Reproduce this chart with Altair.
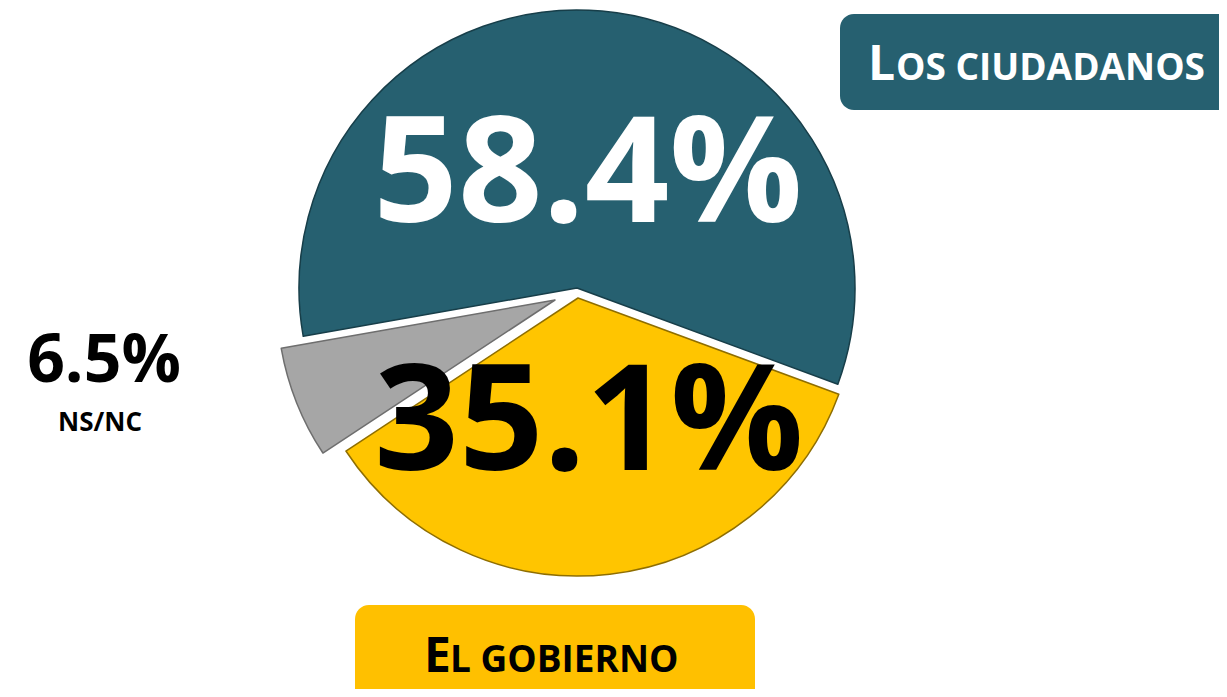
import math
import altair as alt
import pandas as pd

# ---- data ----
categories = ["Los ciudadanos", "El gobierno", "NS/NC"]
values = [58.4, 35.1, 6.5]
slice_order = [0, 1, 2]
colors = ["#266070", "#FFC500", "#A6A6A6"]
edge_colors = ["#173E49", "#8F6E00", "#6E6E6E"]
# small-caps style box labels: (initial, rest)
box_text_ciudadanos = ["L", "OS CIUDADANOS"]
box_text_gobierno = ["E", "L GOBIERNO"]
nsnc_caption = "NS/NC"

df = pd.DataFrame({"category": categories, "value": values, "order": slice_order})
total = sum(values)

# ---- layout (chart coords = page - 8) ----
W, H = 1211, 681
CX, CY, R = 569, 285, 278
START_DEG = 260.0
start = math.radians(START_DEG)
theta_scale = alt.Scale(domain=[0, total], range=[start, start + 2 * math.pi])
FONT = "Open Sans"

base = alt.Chart(df).transform_stack(
    stack="value", as_=["start", "end"], groupby=[], sort=[alt.SortField("order")]
)

offsets = {"Los ciudadanos": (0, -5), "El gobierno": (1, 5), "NS/NC": (-22, 7)}

layers = []
for cat, col, ecol in zip(categories, colors, edge_colors):
    dx, dy = offsets[cat]
    layers.append(
        base.transform_filter(alt.datum.category == cat)
        .mark_arc(radius=R, xOffset=dx, yOffset=dy, color=col,
                  stroke=ecol, strokeWidth=1.5, strokeJoin="round")
        .encode(
            theta=alt.Theta("start:Q", scale=theta_scale),
            theta2="end:Q",
            x=alt.value(CX),
            y=alt.value(CY),
        )
    )

def value_label(cat, x, y, size, color, align="center"):
    return (
        base.transform_filter(alt.datum.category == cat)
        .transform_calculate(label="format(datum.value, '.1f') + '%'")
        .mark_text(font=FONT, fontWeight="bold", fontSize=size, color=color,
                   align=align, baseline="alphabetic")
        .encode(text="label:N", x=alt.value(x), y=alt.value(y))
    )

layers.append(value_label("Los ciudadanos", 580, 214, 148, "white"))
layers.append(value_label("El gobierno", 581, 462, 148, "black"))
layers.append(value_label("NS/NC", 96, 374, 66, "black"))

one = alt.Chart(pd.DataFrame({"k": [0]}))

layers.append(
    one.mark_text(font=FONT, fontWeight="bold", fontSize=26, color="black",
                  align="center", baseline="alphabetic")
    .encode(text=alt.value(nsnc_caption), x=alt.value(92), y=alt.value(423))
)

# boxes
layers.append(
    one.mark_rect(color="#266070", cornerRadius=14)
    .encode(x=alt.value(832), x2=alt.value(1240), y=alt.value(6), y2=alt.value(102))
)
layers.append(
    one.mark_rect(color="#FFC000", cornerRadius=14)
    .encode(x=alt.value(347), x2=alt.value(747), y=alt.value(597), y2=alt.value(700))
)

def box_text(parts, x0, x1, y, color):
    big, small = parts
    return [
        one.mark_text(font=FONT, fontWeight="bold", fontSize=48, color=color,
                      align="left", baseline="alphabetic")
        .encode(text=alt.value(big), x=alt.value(x0), y=alt.value(y)),
        one.mark_text(font=FONT, fontWeight="bold", fontSize=37, color=color,
                      align="left", baseline="alphabetic")
        .encode(text=alt.value(small), x=alt.value(x1), y=alt.value(y)),
    ]

layers += box_text(box_text_ciudadanos, 860, 888, 72, "white")
layers += box_text(box_text_gobierno, 416, 442, 664, "black")

chart = (
    alt.layer(*layers)
    .properties(width=W, height=H, autosize=alt.AutoSizeParams(type="none"), padding=0)
    .configure_view(stroke=None)
)

chart.save("out.html", embed_options={"renderer": "svg", "actions": False})
